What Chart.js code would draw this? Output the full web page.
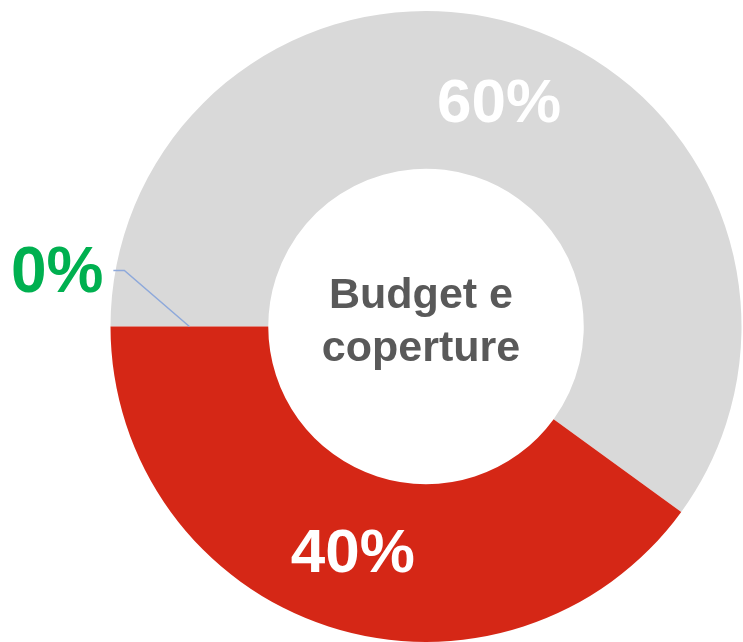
<!DOCTYPE html>
<html>
<head>
<meta charset="utf-8">
<script src="https://cdn.jsdelivr.net/npm/chart.js@4"></script>
<style>
  html, body { margin: 0; padding: 0; background: #fff; }
  #wrap { width: 743px; height: 642px; }
</style>
</head>
<body>
<div id="wrap"><canvas id="myChart"></canvas></div>
<script>
  /* Data
  -----------------------------------------------*/
  const categories = ['Altro', 'Budget', 'Coperture'];
  const values = [0, 60, 40];
  const valueLabels = ['0%', '60%', '40%'];
  const centerLines = ['Budget e', 'coperture'];

  const colors = ['#00B050', '#D9D9D9', '#D52716'];
  const labelColors = ['#00B050', '#FFFFFF', '#FFFFFF'];

  // labels on the slices + leader line for the empty one
  const sliceLabels = {
    id: 'sliceLabels',
    afterDatasetsDraw(chart) {
      const ctx = chart.ctx;
      const meta = chart.getDatasetMeta(0);
      ctx.save();
      meta.data.forEach(function(arc, i) {
        const p = arc.tooltipPosition();
        ctx.fillStyle = labelColors[i];
        if (values[i] === 0) {
          // leader line out to the left
          ctx.strokeStyle = '#8EA9DB';
          ctx.lineWidth = 1.5;
          ctx.beginPath();
          ctx.moveTo(p.x, p.y);
          ctx.lineTo(p.x - 65, p.y - 56);
          ctx.lineTo(p.x - 76, p.y - 56);
          ctx.stroke();
          ctx.font = 'bold 64px "Liberation Sans", Arial, sans-serif';
          ctx.textAlign = 'right';
          ctx.textBaseline = 'middle';
          ctx.fillText(valueLabels[i], p.x - 86, p.y - 52);
        } else {
          ctx.font = 'bold 62px "Liberation Sans", Arial, sans-serif';
          ctx.textAlign = 'center';
          ctx.textBaseline = 'middle';
          ctx.fillText(valueLabels[i], p.x, p.y + 3);
        }
      });
      ctx.restore();
    }
  };

  const centerText = {
    id: 'centerText',
    afterDraw(chart) {
      const ctx = chart.ctx;
      const arc = chart.getDatasetMeta(0).data[0];
      ctx.save();
      ctx.font = 'bold 43px "Liberation Sans", Arial, sans-serif';
      ctx.fillStyle = '#595959';
      ctx.textAlign = 'center';
      ctx.textBaseline = 'middle';
      ctx.fillText(centerLines[0], arc.x - 5, arc.y - 30);
      ctx.fillText(centerLines[1], arc.x - 5, arc.y + 23);
      ctx.restore();
    }
  };

  let ctx = document.getElementById('myChart').getContext('2d');
  let myChart = new Chart(ctx, {
    type: 'doughnut',
    data: {
      labels: categories,
      datasets: [{
        data: values,
        backgroundColor: colors,
        borderWidth: 0
      }]
    },
    options: {
      responsive: true,
      maintainAspectRatio: false,
      animation: false,
      rotation: 270,
      cutout: '50%',
      layout: { padding: { left: 110, top: 11, right: 1, bottom: 0 } },
      plugins: {
        legend: { display: false },
        tooltip: { enabled: false }
      }
    },
    plugins: [sliceLabels, centerText]
  });
</script>
</body>
</html>
